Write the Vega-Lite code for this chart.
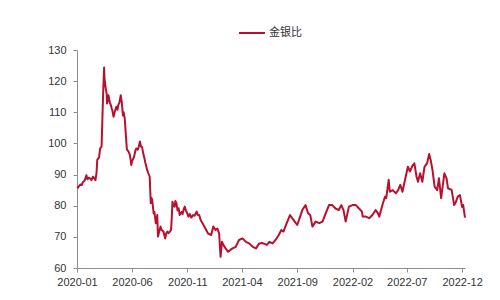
{
  "$schema": "https://vega.github.io/schema/vega-lite/v6.json",
  "autosize": {"type": "none"},
  "width": 388,
  "height": 218,
  "padding": {"left": 77, "top": 50, "right": 35, "bottom": 32},
  "background": "white",
  "config": {
    "view": {"stroke": null},
    "font": "Liberation Sans",
    "axis": {
      "grid": false,
      "domainColor": "#8c8c8c",
      "tickColor": "#8c8c8c",
      "tickSize": 4,
      "labelColor": "#333333",
      "labelFontSize": 11,
      "labelFont": "Liberation Sans",
      "title": null
    }
  },
  "data": {
    "values": [
      {"date": "2020-01-02", "v": 85.6}, {"date": "2020-01-06", "v": 86.2}, {"date": "2020-01-10", "v": 86.8},
      {"date": "2020-01-14", "v": 86.6}, {"date": "2020-01-17", "v": 87.5}, {"date": "2020-01-22", "v": 88.0},
      {"date": "2020-01-27", "v": 89.8}, {"date": "2020-01-30", "v": 88.5}, {"date": "2020-02-03", "v": 89.0},
      {"date": "2020-02-06", "v": 88.8}, {"date": "2020-02-10", "v": 88.2}, {"date": "2020-02-14", "v": 89.3},
      {"date": "2020-02-19", "v": 88.6}, {"date": "2020-02-21", "v": 88.2}, {"date": "2020-02-24", "v": 90.5},
      {"date": "2020-02-26", "v": 94.7}, {"date": "2020-03-02", "v": 95.5}, {"date": "2020-03-05", "v": 98.4},
      {"date": "2020-03-09", "v": 99.0}, {"date": "2020-03-11", "v": 107}, {"date": "2020-03-13", "v": 115},
      {"date": "2020-03-16", "v": 124.4}, {"date": "2020-03-17", "v": 121}, {"date": "2020-03-20", "v": 118},
      {"date": "2020-03-23", "v": 116}, {"date": "2020-03-24", "v": 112.8}, {"date": "2020-03-26", "v": 114},
      {"date": "2020-03-28", "v": 115.5}, {"date": "2020-04-01", "v": 113}, {"date": "2020-04-03", "v": 112.5},
      {"date": "2020-04-06", "v": 111.2}, {"date": "2020-04-08", "v": 110.5}, {"date": "2020-04-11", "v": 108.6},
      {"date": "2020-04-14", "v": 110}, {"date": "2020-04-19", "v": 111.8}, {"date": "2020-04-22", "v": 110.8},
      {"date": "2020-04-24", "v": 112.3}, {"date": "2020-04-27", "v": 113}, {"date": "2020-05-01", "v": 115.5},
      {"date": "2020-05-04", "v": 113}, {"date": "2020-05-07", "v": 109}, {"date": "2020-05-09", "v": 110},
      {"date": "2020-05-12", "v": 108}, {"date": "2020-05-15", "v": 103}, {"date": "2020-05-18", "v": 98},
      {"date": "2020-05-22", "v": 97.5}, {"date": "2020-05-26", "v": 96.4}, {"date": "2020-05-28", "v": 95},
      {"date": "2020-05-30", "v": 93.1}, {"date": "2020-06-02", "v": 94.5}, {"date": "2020-06-07", "v": 95.8},
      {"date": "2020-06-10", "v": 97.5}, {"date": "2020-06-13", "v": 98.4}, {"date": "2020-06-17", "v": 98},
      {"date": "2020-06-20", "v": 99}, {"date": "2020-06-23", "v": 100.6}, {"date": "2020-06-26", "v": 99},
      {"date": "2020-06-29", "v": 98.8}, {"date": "2020-07-02", "v": 96.9}, {"date": "2020-07-05", "v": 95.5},
      {"date": "2020-07-08", "v": 93.8}, {"date": "2020-07-13", "v": 91.5}, {"date": "2020-07-16", "v": 90.5},
      {"date": "2020-07-20", "v": 89.3}, {"date": "2020-07-23", "v": 80.8}, {"date": "2020-07-25", "v": 82.5},
      {"date": "2020-07-27", "v": 81.8}, {"date": "2020-07-31", "v": 77.5}, {"date": "2020-08-02", "v": 78},
      {"date": "2020-08-06", "v": 74.4}, {"date": "2020-08-08", "v": 75}, {"date": "2020-08-10", "v": 77},
      {"date": "2020-08-11", "v": 73}, {"date": "2020-08-12", "v": 70.1}, {"date": "2020-08-16", "v": 72},
      {"date": "2020-08-19", "v": 73.3}, {"date": "2020-08-22", "v": 72.2}, {"date": "2020-08-27", "v": 71.7},
      {"date": "2020-08-29", "v": 70.8}, {"date": "2020-09-01", "v": 69.5}, {"date": "2020-09-04", "v": 71.2},
      {"date": "2020-09-07", "v": 71.7}, {"date": "2020-09-10", "v": 71.2}, {"date": "2020-09-14", "v": 71.7},
      {"date": "2020-09-17", "v": 72.2}, {"date": "2020-09-19", "v": 76}, {"date": "2020-09-21", "v": 81.3},
      {"date": "2020-09-24", "v": 80}, {"date": "2020-09-27", "v": 79.7}, {"date": "2020-09-29", "v": 81.5},
      {"date": "2020-10-02", "v": 80.8}, {"date": "2020-10-05", "v": 78.5}, {"date": "2020-10-08", "v": 79.2},
      {"date": "2020-10-11", "v": 77}, {"date": "2020-10-16", "v": 78}, {"date": "2020-10-19", "v": 77.3},
      {"date": "2020-10-22", "v": 78.8}, {"date": "2020-10-25", "v": 79.7}, {"date": "2020-10-28", "v": 78.5},
      {"date": "2020-11-01", "v": 77.5}, {"date": "2020-11-04", "v": 76.5}, {"date": "2020-11-08", "v": 77.3},
      {"date": "2020-11-12", "v": 76.2}, {"date": "2020-11-17", "v": 77}, {"date": "2020-11-21", "v": 76.8},
      {"date": "2020-11-24", "v": 77.5}, {"date": "2020-11-27", "v": 78.1}, {"date": "2020-11-30", "v": 77},
      {"date": "2020-12-04", "v": 77}, {"date": "2020-12-08", "v": 75.4}, {"date": "2020-12-13", "v": 74.4},
      {"date": "2020-12-18", "v": 73.3}, {"date": "2020-12-23", "v": 72.3}, {"date": "2020-12-28", "v": 71.1},
      {"date": "2021-01-06", "v": 70.6}, {"date": "2021-01-12", "v": 73.3}, {"date": "2021-01-18", "v": 72.2},
      {"date": "2021-01-23", "v": 72.7}, {"date": "2021-01-28", "v": 71.1}, {"date": "2021-02-01", "v": 63.6},
      {"date": "2021-02-05", "v": 68.4}, {"date": "2021-02-09", "v": 67.4}, {"date": "2021-02-15", "v": 66.3},
      {"date": "2021-02-22", "v": 65.2}, {"date": "2021-02-28", "v": 65.8}, {"date": "2021-03-06", "v": 66.3},
      {"date": "2021-03-15", "v": 66.8}, {"date": "2021-03-24", "v": 69.0}, {"date": "2021-04-03", "v": 69.5},
      {"date": "2021-04-12", "v": 68.4}, {"date": "2021-04-21", "v": 67.9}, {"date": "2021-05-01", "v": 66.8},
      {"date": "2021-05-10", "v": 66.3}, {"date": "2021-05-19", "v": 67.9}, {"date": "2021-05-28", "v": 68.0},
      {"date": "2021-06-09", "v": 67.4}, {"date": "2021-06-16", "v": 68.4}, {"date": "2021-06-25", "v": 67.9},
      {"date": "2021-07-03", "v": 69}, {"date": "2021-07-12", "v": 70.6}, {"date": "2021-07-19", "v": 72.2},
      {"date": "2021-07-25", "v": 71.7}, {"date": "2021-08-03", "v": 74.4}, {"date": "2021-08-12", "v": 77},
      {"date": "2021-08-22", "v": 75.4}, {"date": "2021-09-01", "v": 73.8}, {"date": "2021-09-09", "v": 76.5},
      {"date": "2021-09-15", "v": 78.6}, {"date": "2021-09-24", "v": 80.2}, {"date": "2021-10-01", "v": 77.6},
      {"date": "2021-10-07", "v": 77}, {"date": "2021-10-13", "v": 73.3}, {"date": "2021-10-22", "v": 74.9},
      {"date": "2021-11-01", "v": 74.4}, {"date": "2021-11-10", "v": 74.9}, {"date": "2021-11-19", "v": 77.6},
      {"date": "2021-11-28", "v": 80.2}, {"date": "2021-12-07", "v": 80.2}, {"date": "2021-12-16", "v": 79.1},
      {"date": "2021-12-25", "v": 78.6}, {"date": "2022-01-01", "v": 80.2}, {"date": "2022-01-07", "v": 78.6},
      {"date": "2022-01-13", "v": 74.9}, {"date": "2022-01-22", "v": 79.7}, {"date": "2022-02-01", "v": 80.2},
      {"date": "2022-02-10", "v": 80.2}, {"date": "2022-02-19", "v": 79.1}, {"date": "2022-02-27", "v": 78.1},
      {"date": "2022-03-01", "v": 76.5}, {"date": "2022-03-10", "v": 76.5}, {"date": "2022-03-19", "v": 76},
      {"date": "2022-03-28", "v": 77}, {"date": "2022-04-06", "v": 78.6}, {"date": "2022-04-12", "v": 77.6},
      {"date": "2022-04-16", "v": 76.5}, {"date": "2022-04-26", "v": 80.8}, {"date": "2022-05-02", "v": 82.9},
      {"date": "2022-05-05", "v": 82.4}, {"date": "2022-05-12", "v": 88.3}, {"date": "2022-05-15", "v": 84.5},
      {"date": "2022-05-23", "v": 85}, {"date": "2022-06-01", "v": 84}, {"date": "2022-06-07", "v": 85},
      {"date": "2022-06-13", "v": 86.7}, {"date": "2022-06-19", "v": 84.5}, {"date": "2022-06-28", "v": 89.3},
      {"date": "2022-07-04", "v": 92.5}, {"date": "2022-07-10", "v": 91}, {"date": "2022-07-16", "v": 92.7},
      {"date": "2022-07-22", "v": 93.6}, {"date": "2022-07-28", "v": 89.3}, {"date": "2022-08-01", "v": 87.7},
      {"date": "2022-08-07", "v": 90.4}, {"date": "2022-08-13", "v": 87.7}, {"date": "2022-08-19", "v": 92.5},
      {"date": "2022-08-26", "v": 93.6}, {"date": "2022-09-01", "v": 96.6}, {"date": "2022-09-05", "v": 94.7},
      {"date": "2022-09-10", "v": 91.5}, {"date": "2022-09-16", "v": 86.1}, {"date": "2022-09-23", "v": 85},
      {"date": "2022-09-28", "v": 88.8}, {"date": "2022-10-04", "v": 82.4}, {"date": "2022-10-13", "v": 90.4},
      {"date": "2022-10-19", "v": 88.8}, {"date": "2022-10-23", "v": 85.6}, {"date": "2022-11-02", "v": 85.1},
      {"date": "2022-11-09", "v": 80.2}, {"date": "2022-11-14", "v": 81.3}, {"date": "2022-11-19", "v": 82.9},
      {"date": "2022-11-25", "v": 83.4}, {"date": "2022-12-01", "v": 79.6}, {"date": "2022-12-04", "v": 80.2},
      {"date": "2022-12-09", "v": 76.2}
    ]
  },
  "transform": [{"calculate": "'金银比'", "as": "series"}],
  "mark": {"type": "line", "strokeWidth": 2, "strokeJoin": "round"},
  "encoding": {
    "x": {
      "field": "date",
      "type": "temporal",
      "scale": {"domain": ["2020-01-01", "2022-12-09"], "nice": false},
      "axis": {
        "values": ["2020-01-01", "2020-06-01", "2020-11-01", "2021-04-01", "2021-09-01", "2022-02-01", "2022-07-01", "2022-12-01"],
        "format": "%Y-%m",
        "labelPadding": 4,
        "labelFlush": false,
        "labelOverlap": false
      }
    },
    "y": {
      "field": "v",
      "type": "quantitative",
      "scale": {"domain": [60, 130], "nice": false, "zero": false},
      "axis": {"values": [60, 70, 80, 90, 100, 110, 120, 130], "labelPadding": 7}
    },
    "color": {
      "field": "series",
      "type": "nominal",
      "scale": {"range": ["#B8102F"]},
      "legend": {
        "title": null,
        "orient": "none",
        "legendX": 161,
        "legendY": -31,
        "direction": "horizontal",
        "symbolType": "stroke",
        "symbolSize": 676,
        "symbolStrokeWidth": 2,
        "labelFont": "Noto Sans CJK SC",
        "labelFontSize": 11,
        "labelColor": "#333333",
        "labelOffset": 3,
        "padding": 0
      }
    }
  }
}
